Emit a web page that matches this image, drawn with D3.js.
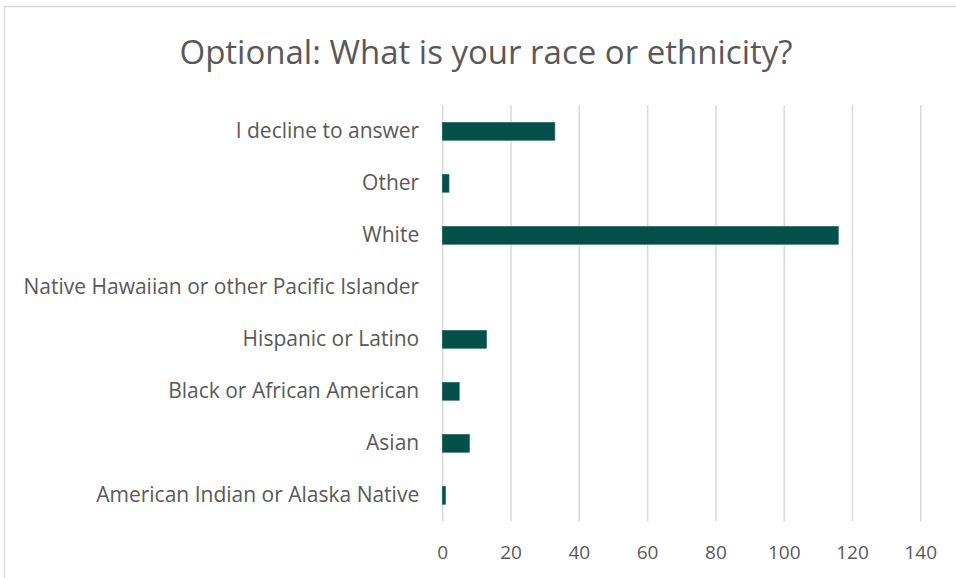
<!DOCTYPE html>
<html>
<head>
<meta charset="utf-8">
<script src="https://cdn.jsdelivr.net/npm/d3@7"></script>
<style>
  html, body { margin: 0; padding: 0; background: #ffffff; }
  svg { display: block; }
  text { font-family: "Open Sans", Lato, "Liberation Sans", sans-serif; fill: #595959; }
</style>
</head>
<body>
<svg id="chart" width="956" height="578"></svg>
<script>
const categories = [
  "I decline to answer",
  "Other",
  "White",
  "Native Hawaiian or other Pacific Islander",
  "Hispanic or Latino",
  "Black or African American",
  "Asian",
  "American Indian or Alaska Native"
];
const values = [33, 2, 116, 0, 13, 5, 8, 1];
const xTicks = [0, 20, 40, 60, 80, 100, 120, 140];
const titleText = "Optional: What is your race or ethnicity?";

const svg = d3.select("#chart");
const plot = { left: 442.2, right: 920.3, top: 105.3, bottom: 521.3 };
const FONT = "'Open Sans', Lato, sans-serif";

// outer frame
svg.append("rect")
  .attr("x", 4.5).attr("y", 6.5)
  .attr("width", 1000).attr("height", 1000)
  .attr("fill", "#ffffff")
  .attr("stroke", "#d9d9d9")
  .attr("stroke-width", 1.5);

const x = d3.scaleLinear().domain([0, 140]).range([plot.left, plot.right]);
const y = d3.scaleBand().domain(categories)
  .range([plot.top, plot.bottom])
  .paddingInner(0.654).paddingOuter(0.327);

// gridlines
svg.append("g")
  .attr("transform", `translate(0,${plot.bottom})`)
  .call(d3.axisBottom(x).tickValues(xTicks).tickSize(-(plot.bottom - plot.top)).tickFormat(""))
  .call(g => g.select(".domain").remove())
  .call(g => g.selectAll("line").attr("stroke", "#d9d9d9").attr("stroke-width", 1.5));

// x tick labels
svg.append("g")
  .attr("transform", `translate(0,${plot.bottom})`)
  .call(d3.axisBottom(x).tickValues(xTicks).tickSize(0).tickPadding(0))
  .call(g => g.select(".domain").remove())
  .call(g => g.selectAll("text")
    .attr("y", 31).attr("dy", "0.35em")
    .style("font-size", "19px").style("fill", "#595959")
    .style("font-family", FONT));

// bars
svg.append("g").selectAll("rect")
  .data(categories.map((c, i) => ({ c, v: values[i] })))
  .join("rect")
  .attr("x", x(0))
  .attr("y", d => y(d.c))
  .attr("width", d => x(d.v) - x(0))
  .attr("height", y.bandwidth())
  .attr("fill", "#034f4a")
  .attr("stroke", d => d.v > 0 ? "#2f6e69" : "none")
  .attr("stroke-width", 0.6);

// category labels
svg.append("g")
  .attr("transform", `translate(${plot.left},0)`)
  .call(d3.axisLeft(y).tickSize(0).tickPadding(23))
  .call(g => g.select(".domain").remove())
  .call(g => g.selectAll("text")
    .style("font-size", "21px").style("fill", "#595959")
    .style("font-family", FONT));

// title
svg.append("text")
  .attr("x", 486).attr("y", 51)
  .attr("text-anchor", "middle")
  .attr("dominant-baseline", "central")
  .style("font-size", "33px")
  .style("font-family", FONT)
  .text(titleText);
</script>
</body>
</html>
